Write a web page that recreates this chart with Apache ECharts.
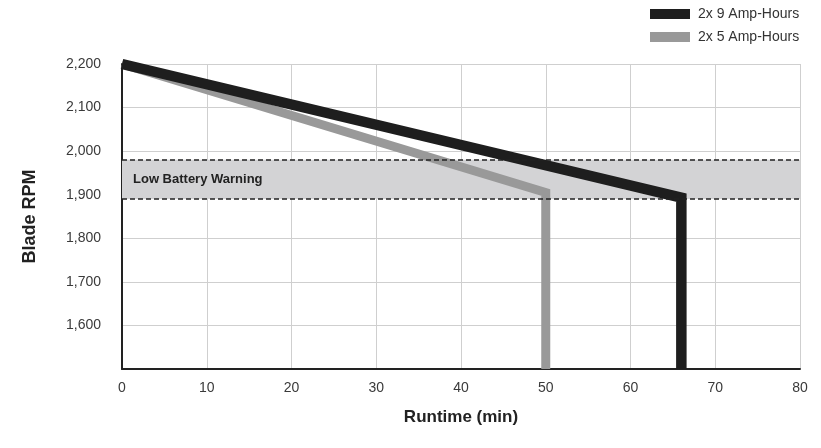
<!DOCTYPE html>
<html>
<head>
<meta charset="utf-8">
<script src="https://cdn.jsdelivr.net/npm/echarts@6/dist/echarts.min.js"></script>
<style>
html,body{margin:0;padding:0;background:#fff;}
#chart{width:821px;height:448px;}
</style>
</head>
<body>
<div id="chart"></div>
<script>
// Data
var seriesNames = ['2x 9 Amp-Hours', '2x 5 Amp-Hours'];
var runtime9 = [0, 66, 66];
var rpm9 = [2200, 1893, 1500];
var runtime5 = [0, 50, 50];
var rpm5 = [2200, 1905, 1500];
var warningLabel = 'Low Battery Warning';
var warningTop = 1980;
var warningBottom = 1890;
var xTicks = [0, 10, 20, 30, 40, 50, 60, 70, 80];
var yTicks = [1600, 1700, 1800, 1900, 2000, 2100, 2200];

function pairs(xs, ys) { return xs.map(function (x, i) { return [x, ys[i]]; }); }

var FONT = '"Liberation Sans", Arial, sans-serif';
var chart = echarts.init(document.getElementById('chart'), null, { renderer: 'canvas' });
chart.setOption({
  animation: false,
  backgroundColor: '#ffffff',
  textStyle: { fontFamily: FONT },
  grid: { left: 122, right: 21, top: 64, bottom: 79 },
  legend: {
    orient: 'vertical',
    left: 650, top: 7, padding: 0,
    itemWidth: 40, itemHeight: 10,
    itemGap: 9,
    icon: 'rect',
    data: [seriesNames[0], seriesNames[1]],
    textStyle: { fontSize: 14, color: '#333', fontFamily: FONT, padding: [0, 0, 0, 3] }
  },
  xAxis: {
    type: 'value', min: xTicks[0], max: xTicks[xTicks.length - 1], interval: 10,
    name: 'Runtime (min)', nameLocation: 'middle', nameGap: 40,
    nameTextStyle: { fontSize: 17, fontWeight: 'bold', color: '#222', fontFamily: FONT },
    axisLine: { show: true, lineStyle: { color: '#222', width: 2 } },
    axisTick: { show: false },
    axisLabel: { fontSize: 14, color: '#3a3a3a', margin: 12, fontFamily: FONT },
    splitLine: { show: true, lineStyle: { color: '#cfcfcf', width: 1 } }
  },
  yAxis: {
    type: 'value', min: 1500, max: yTicks[yTicks.length - 1], interval: 100,
    name: 'Blade RPM', nameLocation: 'middle', nameGap: 83, nameRotate: 90,
    nameTextStyle: { fontSize: 18, fontWeight: 'bold', color: '#222', fontFamily: FONT },
    axisLine: { show: true, lineStyle: { color: '#222', width: 2 } },
    axisTick: { show: false },
    axisLabel: {
      fontSize: 14, color: '#3a3a3a', margin: 21, fontFamily: FONT,
      formatter: function (v) { return yTicks.indexOf(v) >= 0 ? v.toLocaleString('en-US') : ''; }
    },
    splitLine: { show: true, lineStyle: { color: '#cfcfcf', width: 1 } }
  },
  series: [
    {
      name: 'band', type: 'line', data: [], z: 1, silent: true,
      markArea: {
        silent: true,
        itemStyle: { color: '#d3d3d5' },
        label: {
          show: true, position: 'insideLeft', distance: 11,
          color: '#222', fontSize: 13, fontWeight: 'bold', fontFamily: FONT
        },
        data: [[{ name: warningLabel, yAxis: warningTop }, { yAxis: warningBottom }]]
      },
      markLine: {
        silent: true, symbol: ['none', 'none'],
        label: { show: false },
        lineStyle: { color: '#222', width: 1.5, type: [5, 3] },
        data: [{ yAxis: warningTop }, { yAxis: warningBottom }]
      }
    },
    {
      name: seriesNames[1], type: 'line', z: 3, clip: false,
      showSymbol: false, symbol: 'none',
      data: pairs(runtime5, rpm5),
      itemStyle: { color: '#999999' },
      lineStyle: { color: '#999999', width: 9, cap: 'butt', join: 'miter' }
    },
    {
      name: seriesNames[0], type: 'line', z: 4, clip: false,
      showSymbol: false, symbol: 'none',
      data: pairs(runtime9, rpm9),
      itemStyle: { color: '#1e1e1e' },
      lineStyle: { color: '#1e1e1e', width: 10.5, cap: 'butt', join: 'miter' }
    }
  ]
});
</script>
</body>
</html>
